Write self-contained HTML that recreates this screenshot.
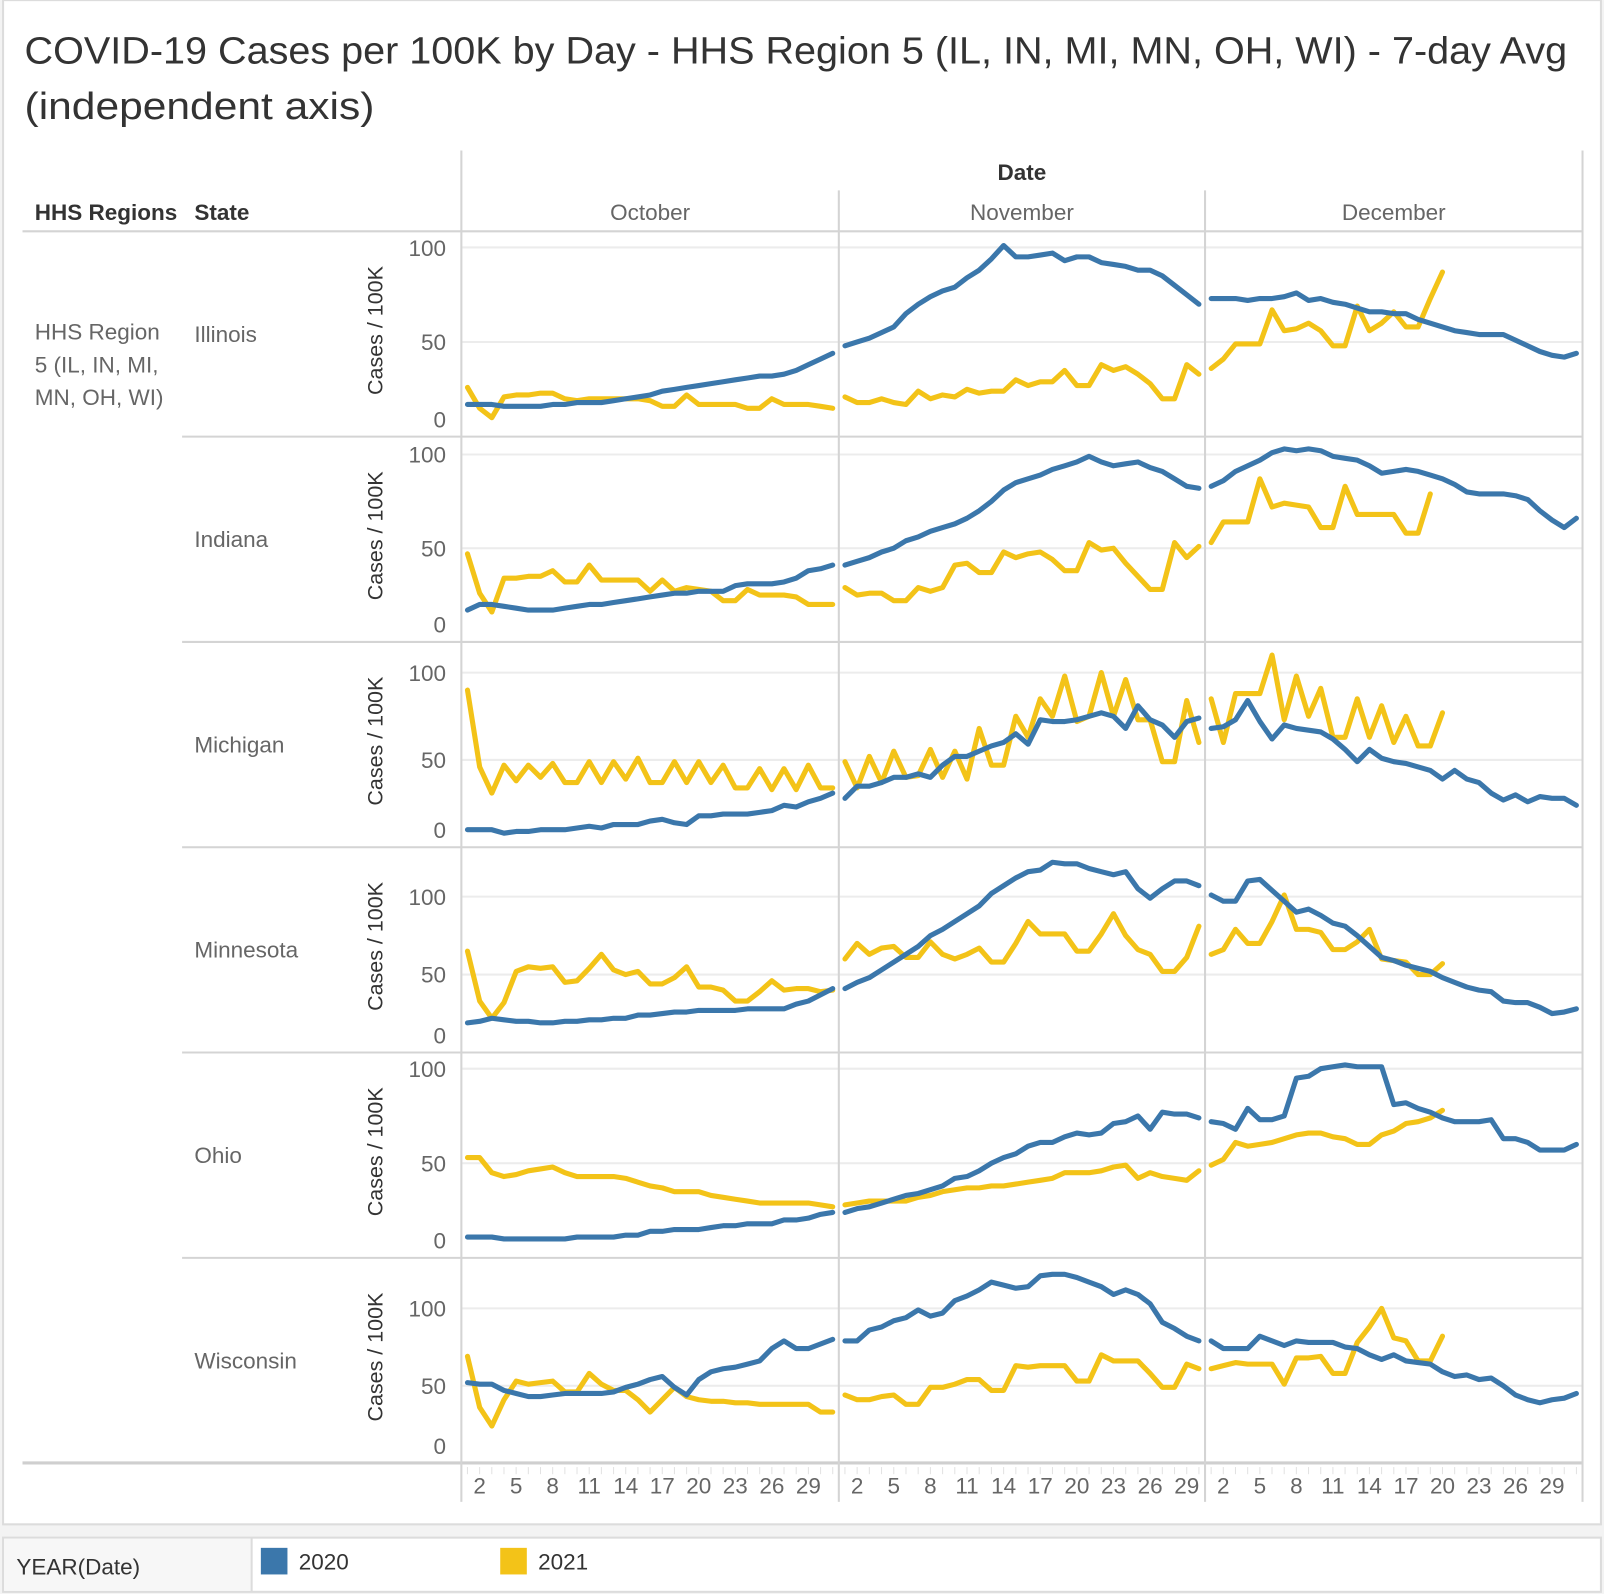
<!DOCTYPE html>
<html><head><meta charset="utf-8"><style>
html,body{margin:0;padding:0;background:#fff;}
svg{display:block;font-family:"Liberation Sans",sans-serif;}
</style></head><body>
<svg id="chart" width="1604" height="1594" viewBox="0 0 1568 1558" xmlns="http://www.w3.org/2000/svg">
<rect x="0" y="0" width="1568" height="1558" fill="#f3f3f3"/>
<rect x="3" y="0" width="1562" height="1490" fill="#fff" stroke="#dcdcdc" stroke-width="2"/>
<text x="24" y="62" font-size="37" fill="#333" textLength="1508" lengthAdjust="spacingAndGlyphs">COVID-19 Cases per 100K by Day - HHS Region 5 (IL, IN, MI, MN, OH, WI) - 7-day Avg</text>
<text x="24" y="116" font-size="37" fill="#333" textLength="342" lengthAdjust="spacingAndGlyphs">(independent axis)</text>
<g id="grid"></g>
<g id="marks"></g>
<rect x="3" y="1503" width="1562" height="53" fill="#fff" stroke="#dcdcdc" stroke-width="2"/>
<rect x="4" y="1504" width="242" height="51" fill="#f7f7f7"/>
<line x1="246" y1="1503" x2="246" y2="1556" stroke="#dcdcdc" stroke-width="2"/>
<text x="16" y="1539" font-size="22" fill="#333">YEAR(Date)</text>
<rect x="255" y="1513" width="26" height="26" fill="#3b77ab"/>
<text x="292" y="1534" font-size="22" fill="#333">2020</text>
<rect x="489" y="1513" width="26" height="26" fill="#f3c318"/>
<text x="526" y="1534" font-size="22" fill="#333">2021</text>
</svg>
<script>
const states = ["Illinois","Indiana","Michigan","Minnesota","Ohio","Wisconsin"];
const months = ["October","November","December"];
const monthDays = [31,30,31];
const yMax = [108,109,117,131,108,132];
const yTicks = [0,50,100];
const xTickDays = [2,5,8,11,14,17,20,23,26,29];

const IL_2020 = [17,17,17,16,16,16,16,17,17,18,18,18,19,20,21,22,24,25,26,27,28,29,30,31,32,32,33,35,38,41,44,
 48,50,52,55,58,65,70,74,77,79,84,88,94,101,95,95,96,97,93,95,95,92,91,90,88,88,85,80,75,70,
 73,73,73,72,73,73,74,76,72,73,71,70,68,66,66,65,65,62,60,58,56,55,54,54,54,51,48,45,43,42,44];
const IL_2021 = [26,15,10,21,22,22,23,23,20,19,20,20,20,20,20,19,16,16,22,17,17,17,17,15,15,20,17,17,17,16,15,
 21,18,18,20,18,17,24,20,22,21,25,23,24,24,30,27,29,29,35,27,27,38,35,37,33,28,20,20,38,33,
 36,41,49,49,49,67,56,57,60,56,48,48,69,56,60,66,58,58,73,87];
const IN_2020 = [17,20,20,19,18,17,17,17,18,19,20,20,21,22,23,24,25,26,26,27,27,27,30,31,31,31,32,34,38,39,41,
 41,43,45,48,50,54,56,59,61,63,66,70,75,81,85,87,89,92,94,96,99,96,94,95,96,93,91,87,83,82,
 83,86,91,94,97,101,103,102,103,102,99,98,97,94,90,91,92,91,89,87,84,80,79,79,79,78,76,70,65,61,66];
const IN_2021 = [47,26,16,34,34,35,35,38,32,32,41,33,33,33,33,27,33,27,29,28,27,22,22,28,25,25,25,24,20,20,20,
 29,25,26,26,22,22,29,27,29,41,42,37,37,48,45,47,48,44,38,38,53,49,50,42,35,28,28,53,45,
 51,53,64,64,64,87,72,74,73,72,61,61,83,68,68,68,68,58,58,79];
const MI_2020 = [10,10,10,8,9,9,10,10,10,11,12,11,13,13,13,15,16,14,13,18,18,19,19,19,20,21,24,23,26,28,31,
 28,35,35,37,40,40,42,40,47,52,52,55,58,60,65,59,73,72,72,73,75,77,75,68,81,73,70,63,72,74,
 68,69,73,84,72,62,70,68,67,66,62,56,49,56,51,49,48,46,44,39,44,39,37,31,27,30,26,29,28,28,24];
const MI_2021 = [90,46,31,47,38,47,40,48,37,37,49,37,49,39,51,37,37,49,37,49,37,47,34,34,45,33,45,33,47,34,34,
 49,34,52,37,55,40,41,56,40,55,39,68,47,47,75,63,85,75,98,72,75,100,75,96,73,73,49,49,84,60,
 85,60,88,88,88,110,73,98,75,91,63,63,85,63,81,60,75,58,58,77];
const MN_2020 = [19,20,22,21,20,20,19,19,20,20,21,21,22,22,24,24,25,26,26,27,27,27,27,28,28,28,28,31,33,37,41,
 41,45,48,53,58,63,68,75,79,84,89,94,102,107,112,116,117,122,121,121,118,116,114,116,105,99,105,110,110,107,
 101,97,97,110,111,104,97,90,92,88,83,81,75,68,61,59,56,54,52,48,45,42,40,39,33,32,32,29,25,26,28];
const MN_2021 = [65,33,22,32,52,55,54,55,45,46,54,63,53,50,52,44,44,48,55,42,42,40,33,33,39,46,40,41,41,39,40,
 60,70,63,67,68,61,61,71,63,60,63,67,58,58,70,84,76,76,76,65,65,76,89,75,66,63,52,52,61,81,
 63,66,79,70,70,84,101,79,79,77,66,66,71,79,60,59,58,50,50,57];
const OH_2020 = [11,11,11,10,10,10,10,10,10,11,11,11,11,12,12,14,14,15,15,15,16,17,17,18,18,18,20,20,21,23,24,
 24,26,27,29,31,33,34,36,38,42,43,46,50,53,55,59,61,61,64,66,65,66,71,72,75,68,77,76,76,74,
 72,71,68,79,73,73,75,95,96,100,101,102,101,101,101,81,82,79,77,74,72,72,72,73,63,63,61,57,57,57,60];
const OH_2021 = [53,53,45,43,44,46,47,48,45,43,43,43,43,42,40,38,37,35,35,35,33,32,31,30,29,29,29,29,29,28,27,
 28,29,30,30,30,30,32,33,35,36,37,37,38,38,39,40,41,42,45,45,45,46,48,49,42,45,43,42,41,46,
 49,52,61,59,60,61,63,65,66,66,64,63,60,60,65,67,71,72,74,78];
const WI_2020 = [52,51,51,47,45,43,43,44,45,45,45,45,46,49,51,54,56,49,44,54,59,61,62,64,66,74,79,74,74,77,80,
 79,79,86,88,92,94,99,95,97,105,108,112,117,115,113,114,121,122,122,120,117,114,109,112,109,103,91,87,82,79,
 79,74,74,74,82,79,76,79,78,78,78,75,74,70,67,70,66,65,64,59,56,57,54,55,50,44,41,39,41,42,45];
const WI_2021 = [69,36,24,41,53,51,52,53,46,46,58,51,47,47,41,33,41,49,43,41,40,40,39,39,38,38,38,38,38,33,33,
 44,41,41,43,44,38,38,49,49,51,54,54,47,47,63,62,63,63,63,53,53,70,66,66,66,58,49,49,64,61,
 61,63,65,64,64,64,51,68,68,69,58,58,78,88,100,81,79,66,66,82];

const series2020 = [IL_2020,IN_2020,MI_2020,MN_2020,OH_2020,WI_2020];
const series2021 = [IL_2021,IN_2021,MI_2021,MN_2021,OH_2021,WI_2021];

const NS="http://www.w3.org/2000/svg";
const grid=document.getElementById('grid'), marks=document.getElementById('marks');
const colX=[451,820,1178,1547];
const rowTop=226, rowH=200.7;
const dayW=[(820-451)/31,(1178-820)/30,(1547-1178)/31];
function mk(tag,attrs,parent){const e=document.createElementNS(NS,tag);for(const k in attrs)e.setAttribute(k,attrs[k]);parent.appendChild(e);return e;}
function xScale(m,d){return colX[m]+(d-0.5)*dayW[m];}
function yScale(r,v){const b=rowTop+(r+1)*rowH;return b-(v/yMax[r])*(rowH-1);}

let t;
t=mk('text',{x:999,y:176,'font-size':22,'font-weight':'bold',fill:'#333','text-anchor':'middle'},grid);t.textContent='Date';


t=mk('text',{x:34,y:215,'font-size':22,'font-weight':'bold',fill:'#333'},grid);t.textContent='HHS Regions';


t=mk('text',{x:190,y:215,'font-size':22,'font-weight':'bold',fill:'#333'},grid);t.textContent='State';


["HHS Region","5 (IL, IN, MI,","MN, OH, WI)"].forEach((s,i)=>{
  const e=mk('text',{x:34,y:332+i*32,'font-size':22,fill:'#666'},grid);e.textContent=s;
  
  
});
months.forEach((m,i)=>{
  const e=mk('text',{x:(colX[i]+colX[i+1])/2,y:215,'font-size':22,fill:'#666','text-anchor':'middle'},grid);e.textContent=m;
  
  
});
states.forEach((s,r)=>{
  const top=rowTop+r*rowH, bot=top+rowH;
  yTicks.forEach(v=>{
    const y=yScale(r,v);
    if(v>0){const g=mk('line',{x1:colX[0],x2:colX[3],y1:y,y2:y,stroke:'#ececec','stroke-width':2},grid);
      
      }
    const ly=Math.min(Math.max(y,top+16),bot-17);
    const e=mk('text',{x:436,y:ly+8,'font-size':22,fill:'#666','text-anchor':'end'},grid);e.textContent=v;
    
    
  });
  const at=mk('text',{x:0,y:0,'font-size':21,fill:'#333','text-anchor':'middle',transform:`translate(374,${top+97}) rotate(-90)`},grid);at.textContent='Cases / 100K';
  
  
  const sl=mk('text',{x:190,y:top+108,'font-size':22,fill:'#666'},grid);sl.textContent=s;
  
  
  if(r>0){const l=mk('line',{x1:178,x2:1547,y1:top,y2:top,stroke:'#d4d4d4','stroke-width':2},grid);
    
    }
});
let l;
l=mk('line',{x1:22,x2:1547,y1:226,y2:226,stroke:'#d4d4d4','stroke-width':2},grid);


l=mk('line',{x1:22,x2:1547,y1:1430,y2:1430,stroke:'#cfcfcf','stroke-width':3},grid);


l=mk('line',{x1:451,x2:451,y1:147,y2:1468,stroke:'#d4d4d4','stroke-width':2},grid);


[820,1178,1547].forEach((x,i)=>{
  const ll=mk('line',{x1:x,x2:x,y1:i==2?147:186,y2:1468,stroke:'#d4d4d4','stroke-width':2},grid);
  
  
});
monthDays.forEach((n,m)=>{
  for(let d=1;d<=n;d++){const x=xScale(m,d);
    const tk=mk('line',{x1:x,x2:x,y1:1434,y2:1441,stroke:'#e2e2e2','stroke-width':1},grid);
    
    }
  xTickDays.forEach(d=>{
    const e=mk('text',{x:xScale(m,d),y:1460,'font-size':22,fill:'#666','text-anchor':'middle'},grid);e.textContent=d;
    
    
  });
});
function drawSeries(arr,r,color,name){
  let idx=0;
  monthDays.forEach((n,m)=>{
    const pts=[];
    for(let d=1;d<=n&&idx<arr.length;d++,idx++){pts.push(xScale(m,d).toFixed(1)+','+yScale(r,arr[idx]).toFixed(1));}
    if(pts.length>1){
      const p=mk('polyline',{points:pts.join(' '),fill:'none',stroke:color,'stroke-width':5,'stroke-linejoin':'round','stroke-linecap':'round'},marks);
      
      
    }
  });
}
states.forEach((s,r)=>{
  drawSeries(series2021[r],r,'#f3c318',s.toLowerCase()+'-2021-line');
  drawSeries(series2020[r],r,'#3b77ab',s.toLowerCase()+'-2020-line');
});
</script>
</body></html>
